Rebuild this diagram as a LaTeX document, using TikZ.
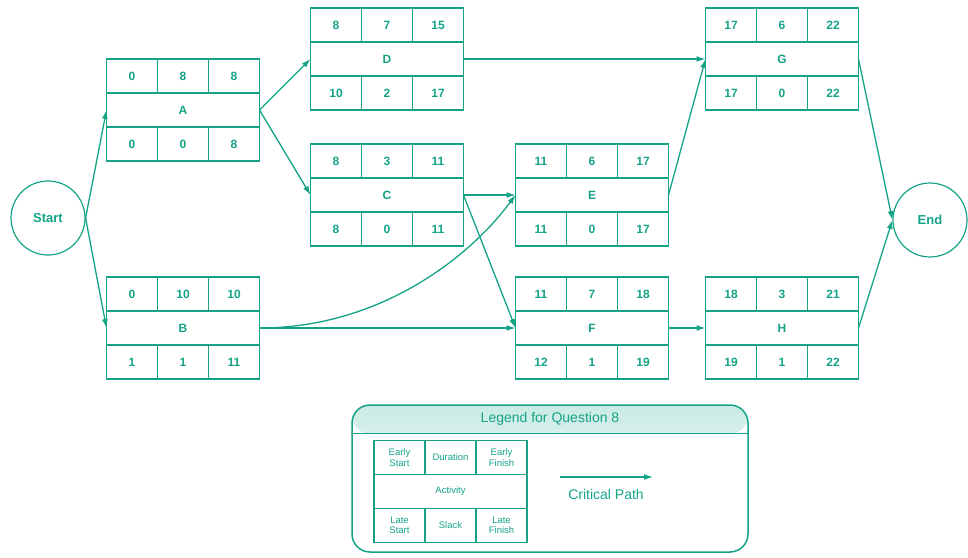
\documentclass[tikz,border=0pt]{standalone}
\usepackage{fontspec}
\setmainfont{Liberation Sans}
\usepackage{tikz}
\usetikzlibrary{arrows.meta, positioning, shapes.geometric}
\definecolor{pertteal}{RGB}{20,163,135}

\newcommand{\activity}[9]{%
  \node[actrow] (#1) at (#2) {#3};
  \node[cell, anchor=south west] (#1-es) at (#1.north west) {#4};
  \node[cell, right=0pt of #1-es] (#1-dur) {#5};
  \node[cell, right=0pt of #1-dur] (#1-ef) {#6};
  \node[cell, anchor=north west] (#1-ls) at (#1.south west) {#7};
  \node[cell, right=0pt of #1-ls] (#1-sl) {#8};
  \node[cell, right=0pt of #1-sl] (#1-lf) {#9};
}

\begin{document}
\begin{tikzpicture}[
    x=1pt, y=1pt,
    color=pertteal,
    celltext/.style={font=\fontsize{12}{14}\selectfont\bfseries},
    cell/.style={rectangle, draw, line width=1.5pt, inner sep=0pt, outer sep=0pt, minimum width=51pt, minimum height=34pt, align=center, celltext},
    actrow/.style={cell, minimum width=153pt},
    event/.style={circle, draw, line width=1.2pt, minimum size=74pt, font=\fontsize{13}{15}\selectfont\bfseries},
    link/.style={-{Latex[length=9pt,width=6pt]}, line width=1.3pt},
    legendframe/.style={rectangle, draw, line width=1.5pt, rounded corners=18pt, minimum width=396pt, minimum height=147pt}
]
\useasboundingbox (0,0) rectangle (968,557);

\node[event] (start) at (48,339) {Start};
\node[event] (end) at (930,337) {End};

\activity{A}{183,447}{A}{0}{8}{8}{0}{0}{8}
\activity{D}{387,498}{D}{8}{7}{15}{10}{2}{17}
\activity{C}{387,362}{C}{8}{3}{11}{8}{0}{11}
\activity{E}{592,362}{E}{11}{6}{17}{11}{0}{17}
\activity{G}{782,498}{G}{17}{6}{22}{17}{0}{22}
\activity{B}{183,229}{B}{0}{10}{10}{1}{1}{11}
\activity{F}{592,229}{F}{11}{7}{18}{12}{1}{19}
\activity{H}{782,229}{H}{18}{3}{21}{19}{1}{22}

\draw[link] (start.east) -- (A.west);
\draw[link] (start.east) -- (B.west);
\draw[link] (A.east) -- (D.west);
\draw[link] (A.east) -- (C.west);
\draw[link] (D.east) -- (G.west);
\draw[link] (C.east) -- (E.west);
\draw[link] (C.east) -- (F.west);
\draw[link] (B.east) .. controls (380,229) and (470,300) .. (E.west);
\draw[link] (B.east) -- (F.west);
\draw[link] (E.east) -- (G.west);
\draw[link] (F.east) -- (H.west);
\draw[link] (G.east) -- (end.west);
\draw[link] (H.east) -- (end.west);

\node[legendframe, path picture={\shade[top color=pertteal!22, bottom color=white] (path picture bounding box.north west) rectangle ([yshift=-29pt]path picture bounding box.north east);}] (legend) at (550,78.5) {};
\node[font=\fontsize{14}{16}\selectfont, minimum height=29pt, inner sep=0pt, anchor=north] (legend-title) at (legend.north) {Legend for Question 8};
\draw[line width=1.5pt] (legend.west |- legend-title.south) -- (legend.east |- legend-title.south);

\begin{scope}[celltext/.style={font=\fontsize{9.5}{10.5}\selectfont}]
\activity{key}{450.5,65.5}{Activity}{Early\\Start}{Duration}{Early\\Finish}{Late\\Start}{Slack}{Late\\Finish}
\end{scope}

\coordinate (crit-from) at (560,80);
\coordinate (crit-to) at (653,80);
\draw[link] (crit-from) -- (crit-to);
\node[font=\fontsize{14}{16}\selectfont] (crit-label) at (606,63) {Critical Path};
\end{tikzpicture}
\end{document}
